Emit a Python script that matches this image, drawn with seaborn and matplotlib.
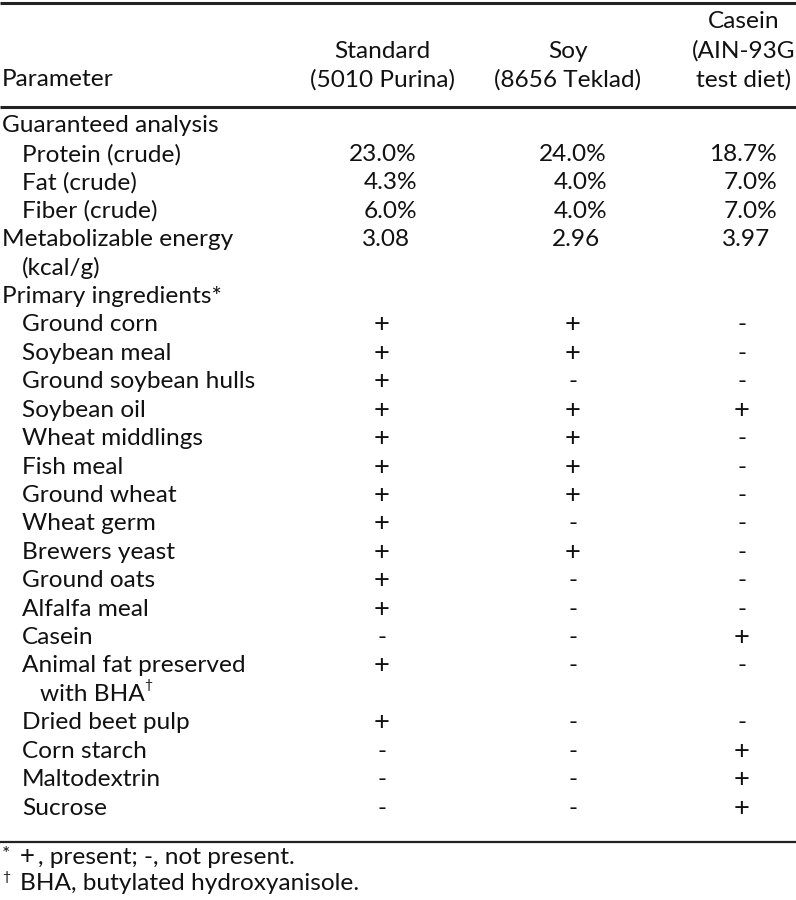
import matplotlib
matplotlib.use('Agg')
import matplotlib.pyplot as plt
import seaborn as sns

# column headers (lines top to bottom)
header_standard = ["Standard", "(5010 Purina)"]
header_soy = ["Soy", "(8656 Teklad)"]
header_casein = ["Casein", "(AIN-93G", "test diet)"]

analysis_labels = ["Protein (crude)", "Fat (crude)", "Fiber (crude)"]
standard_analysis = ["23.0%", "4.3%", "6.0%"]
soy_analysis = ["24.0%", "4.0%", "4.0%"]
casein_analysis = ["18.7%", "7.0%", "7.0%"]

energy_values = ["3.08", "2.96", "3.97"]

ingredients = ["Ground corn", "Soybean meal", "Ground soybean hulls", "Soybean oil",
               "Wheat middlings", "Fish meal", "Ground wheat", "Wheat germ",
               "Brewers yeast", "Ground oats", "Alfalfa meal", "Casein",
               "Animal fat preserved", "Dried beet pulp", "Corn starch",
               "Maltodextrin", "Sucrose"]
standard_ing = ["+", "+", "+", "+", "+", "+", "+", "+", "+", "+", "+", "-", "+", "+", "-", "-", "-"]
soy_ing = ["+", "+", "-", "+", "+", "+", "+", "-", "+", "-", "-", "-", "-", "-", "-", "-", "-"]
casein_ing = ["-", "-", "-", "+", "-", "-", "-", "-", "-", "-", "-", "+", "-", "-", "+", "+", "+"]

footnotes = ["+, present; -, not present.", "BHA, butylated hydroxyanisole."]

sns.set_theme(style="white")
plt.rcParams['font.family'] = ['Lato', 'DejaVu Sans']
FS = 17.6

fig = plt.figure(figsize=(7.96, 9), dpi=100)
ax = fig.add_axes([0, 0, 1, 1])
ax.set_xlim(0, 796)
ax.set_ylim(900, 0)
ax.axis('off')

col_center = [382, 573, 742]
col_right = [417, 607, 777]
energy_right = [410, 600, 770]
head_center = [382, 568, 744]
x_left, x_indent = 2, 22


def put(x, y, s, ha='left', size=FS):
    return ax.text(x, y, s, ha=ha, va='center', fontsize=size, color='#111111')


# rules
ax.hlines([2.5], 0, 796, color='#222222', lw=2.2)
ax.hlines([107], 0, 796, color='#222222', lw=2.2)
ax.hlines([842], 0, 796, color='#222222', lw=1.6)

# header
put(x_left, 80, "Parameter")
for lines, xc in zip([header_standard, header_soy, header_casein], head_center):
    for i, s in enumerate(reversed(lines)):
        put(xc, 80 - i * 29, s, ha='center')

# body
y0, step = 126, 28.42
row = 0
put(x_left, y0, "Guaranteed analysis")
row += 1
for i, lab in enumerate(analysis_labels):
    y = y0 + row * step
    put(x_indent, y, lab)
    for vals, xr in zip([standard_analysis, soy_analysis, casein_analysis], col_right):
        put(xr, y, vals[i], ha='right')
    row += 1

y = y0 + row * step
put(x_left, y, "Metabolizable energy")
for v, xr in zip(energy_values, energy_right):
    put(xr, y, v, ha='right')
row += 1
put(x_indent, y0 + row * step, "(kcal/g)")
row += 1
put(x_left, y0 + row * step, "Primary ingredients*")
row += 1

bha_text = None
for i, lab in enumerate(ingredients):
    y = y0 + row * step
    put(x_indent, y, lab)
    for vals, xc in zip([standard_ing, soy_ing, casein_ing], col_center):
        mark = vals[i]
        if mark == "+":
            put(xc, y, "+", ha='center', size=FS + 2)
        else:
            put(xc, y, "-", ha='center')
    row += 1
    if lab == "Animal fat preserved":
        y = y0 + row * step
        bha_text = put(40, y, "with BHA")
        bha_y = y
        row += 1

# dagger right after "with BHA"
fig.canvas.draw()
bb = bha_text.get_window_extent().transformed(ax.transData.inverted())
ax.text(bb.x1 - 1, bha_y - 9, "\u2020", ha='left', va='center', fontsize=10, color='#111111')

# footnotes
ax.text(2, 854, "*", ha='left', va='center', fontsize=14, color='#111111')
put(20, 857, "+", size=FS + 1)
put(38, 857, footnotes[0][1:])
ax.text(2, 877, "\u2020", ha='left', va='center', fontsize=10, color='#111111')
put(20, 883, footnotes[1])

fig.savefig('out.png', dpi=100)
